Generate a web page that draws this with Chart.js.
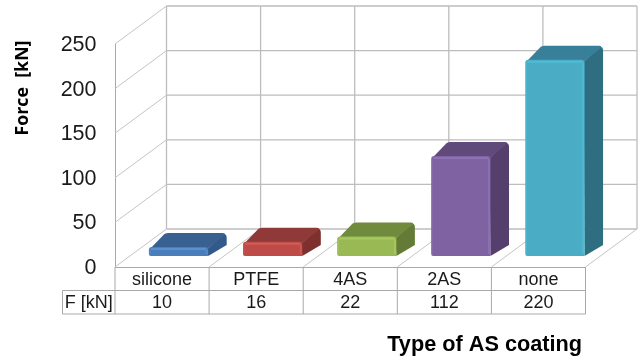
<!DOCTYPE html>
<html>
<head>
<meta charset="utf-8">
<style>
  html, body { margin: 0; padding: 0; background: #fff; }
  #wrap { width: 644px; height: 358px; }
</style>
<script src="https://cdn.jsdelivr.net/npm/chart.js@4"></script>
</head>
<body>
<div id="wrap"><canvas id="myChart" width="644" height="358"></canvas></div>
<script>
var coatings = ['silicone', 'PTFE', '4AS', '2AS', 'none'];
var forceKn = [10, 16, 22, 112, 220];
var forceTicks = [0, 50, 100, 150, 200, 250];

var frontColors = ['#4a7ebb', '#be4b48', '#98b954', '#7e62a1', '#4aacc5'];
var topColors = ['#386192', '#8f3a38', '#708a3e', '#5f4a7b', '#38809a'];
var sideColors = ['#33598a', '#7d302e', '#637b36', '#553f6c', '#2f6e80'];
var edgeColors = ['#5f95d6', '#d45f5b', '#acd063', '#9476ba', '#52bfda'];

// depth of the room and of the bars, in pixels
var roomDx = 51.5, roomDy = -38;
var barDx = 18.5, barDy = -14;
var barShiftX = 16.5, barShiftY = -11;

var room3d = {
  id: 'room3d',
  beforeDatasetsDraw: function(chart) {
    var c = chart.ctx, y = chart.scales.y;
    var left = chart.chartArea.left, right = chart.chartArea.right, floor = y.getPixelForValue(0);
    var line = function(x1, y1, x2, y2) {
      c.beginPath(); c.moveTo(x1, y1); c.lineTo(x2, y2); c.stroke();
    };
    var top = y.getPixelForValue(forceTicks[forceTicks.length - 1]);
    var step = (right - left) / coatings.length;

    c.save();
    // back wall
    c.strokeStyle = '#bdbdbd';
    c.lineWidth = 1.3;
    forceTicks.forEach(function(t) {
      var py = y.getPixelForValue(t) + roomDy;
      line(left + roomDx, py, right + roomDx, py);
    });
    for (var i = 0; i <= coatings.length; i++) {
      line(left + roomDx + i * step, top + roomDy, left + roomDx + i * step, floor + roomDy);
    }
    // side wall and floor diagonals
    c.lineWidth = 1;
    c.strokeStyle = '#c4c4c4';
    forceTicks.forEach(function(t) {
      var py = y.getPixelForValue(t);
      line(left, py, left + roomDx, py + roomDy);
    });
    for (var j = 1; j <= coatings.length; j++) {
      line(left + j * step, floor, left + j * step + roomDx, floor + roomDy);
    }
    c.restore();
  },
  beforeDatasetDraw: function(chart) {
    var c = chart.ctx;
    var bars = chart.getDatasetMeta(0).data;
    c.save();
    c.translate(barShiftX, barShiftY);
    bars.forEach(function(b, i) {
      var l = b.x - b.width / 2, r = b.x + b.width / 2;
      // side face
      c.fillStyle = sideColors[i];
      c.beginPath();
      c.moveTo(r - 1, b.y + 2);
      c.lineTo(r + barDx - 3, b.y + barDy + 1);
      c.quadraticCurveTo(r + barDx, b.y + barDy + 1, r + barDx, b.y + barDy + 5);
      c.lineTo(r + barDx, b.base + barDy + 3);
      c.lineTo(r, b.base);
      c.closePath();
      c.fill();
      // top face
      c.fillStyle = topColors[i];
      c.beginPath();
      c.moveTo(l + 1, b.y + 2);
      c.lineTo(l + barDx - 3, b.y + barDy + 1);
      c.quadraticCurveTo(l + barDx - 1, b.y + barDy, l + barDx + 1, b.y + barDy);
      c.lineTo(r + barDx - 4, b.y + barDy);
      c.quadraticCurveTo(r + barDx - 1, b.y + barDy, r + barDx - 2, b.y + barDy + 2);
      c.lineTo(r - 1, b.y + 2);
      c.closePath();
      c.fill();
    });
    // front faces come from the bar elements themselves
  },
  afterDatasetDraw: function(chart) {
    var c = chart.ctx;
    var bars = chart.getDatasetMeta(0).data;
    bars.forEach(function(b, i) {
      var l = b.x - b.width / 2, r = b.x + b.width / 2;
      // soft bevel on the front face, strongest along the top and right
      c.strokeStyle = edgeColors[i];
      c.lineWidth = 2;
      c.globalAlpha = 0.35;
      c.beginPath();
      c.moveTo(l + 1, b.base - 2);
      c.lineTo(l + 1, b.y + 3);
      c.stroke();
      c.globalAlpha = 0.8;
      c.beginPath();
      c.moveTo(l + 2, b.y + 2);
      c.lineTo(r - 2, b.y + 2);
      c.stroke();
      c.globalAlpha = 0.65;
      c.beginPath();
      c.moveTo(r - 1.5, b.y + 3);
      c.lineTo(r - 1.5, b.base - 2);
      c.stroke();
      c.globalAlpha = 1;
    });
    c.restore();
  },
  afterDraw: function(chart) {
    var c = chart.ctx, y = chart.scales.y;
    var left = chart.chartArea.left, right = chart.chartArea.right, floor = y.getPixelForValue(0);
    var step = (right - left) / coatings.length;
    var row1 = floor + 23.5, row2 = floor + 47, keyLeft = 62.5;
    c.save();
    c.strokeStyle = '#a9a9a9';
    c.lineWidth = 1;
    c.beginPath();
    c.moveTo(keyLeft, row1); c.lineTo(right, row1);
    c.moveTo(keyLeft, row2); c.lineTo(right, row2);
    c.moveTo(keyLeft, row1); c.lineTo(keyLeft, row2);
    for (var i = 0; i <= coatings.length; i++) {
      c.moveTo(left + i * step, floor);
      c.lineTo(left + i * step, row2);
    }
    c.stroke();
    // value row under the category labels
    c.fillStyle = '#1a1a1a';
    c.font = '18px "Liberation Sans"';
    c.textBaseline = 'middle';
    c.textAlign = 'center';
    forceKn.forEach(function(v, k) {
      c.fillText(String(v), left + (k + 0.5) * step, (row1 + row2) / 2 + 0.5);
    });
    c.fillText('F [kN]', (keyLeft + left) / 2, (row1 + row2) / 2 + 0.5);

    // axis titles
    c.fillStyle = '#000';
    c.font = 'bold 21.7px "Liberation Sans"';
    c.textAlign = 'right';
    c.fillText('Type of AS coating', 582, 345);
    c.translate(23, 88);
    c.rotate(-Math.PI / 2);
    c.textAlign = 'center';
    c.font = 'bold 17.8px "Open Sans"';
    c.fillText('Force  [kN]', 0, 0);
    c.restore();
  }
};

var config = {
  type: 'bar',
  data: {
    labels: coatings,
    datasets: [{
      data: forceKn,
      backgroundColor: frontColors,
      borderWidth: 0,
      borderRadius: { topLeft: 3, topRight: 3, bottomLeft: 2, bottomRight: 1 },
      borderSkipped: false,
      barPercentage: 0.63,
      categoryPercentage: 1
    }]
  },
  options: {
    responsive: false,
    animation: false,
    layout: { padding: { top: 44, right: 58.5, left: 0, bottom: 0 } },
    plugins: { legend: { display: false }, tooltip: { enabled: false }, title: { display: false } },
    scales: {
      x: {
        grid: { display: false, drawTicks: false },
        border: { display: true, color: '#a9a9a9', width: 1 },
        ticks: { color: '#1a1a1a', font: { family: '"Liberation Sans"', size: 18 }, padding: 2, maxRotation: 0 },
        afterFit: function(scale) { scale.height = 91; }
      },
      y: {
        min: 0,
        max: 250,
        grid: { display: false, drawTicks: false },
        border: { display: true, color: '#a9a9a9', width: 1 },
        afterBuildTicks: function(scale) {
          scale.ticks = forceTicks.map(function(v) { return { value: v }; });
        },
        ticks: { color: '#1a1a1a', font: { family: '"Liberation Sans"', size: 21.5 }, padding: 18.5, labelOffset: 1 },
        afterFit: function(scale) { scale.width = 115; }
      }
    }
  },
  plugins: [room3d]
};

var ctx = document.getElementById('myChart').getContext('2d');
var myChart = new Chart(ctx, config);
</script>
</body>
</html>
